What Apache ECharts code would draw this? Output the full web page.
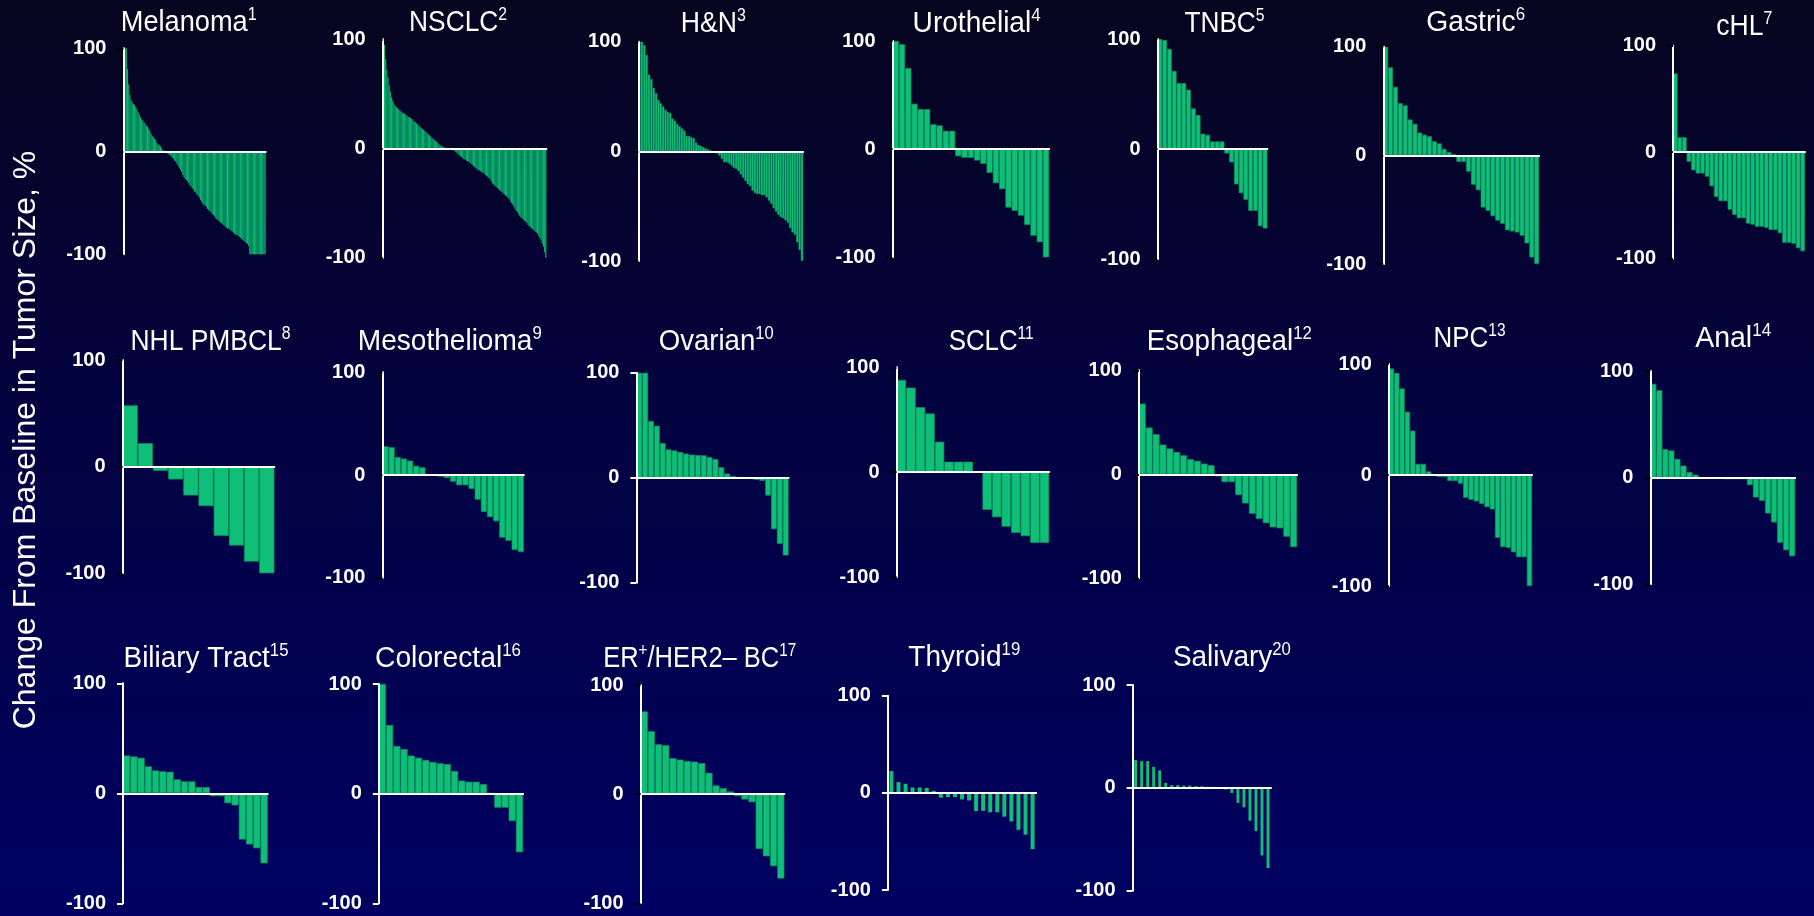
<!DOCTYPE html>
<html><head><meta charset="utf-8">
<script src="https://cdn.jsdelivr.net/npm/echarts@6/dist/echarts.min.js"></script>
<style>html,body{margin:0;padding:0;background:#000040;overflow:hidden}#c{width:1814px;height:916px}</style>
</head><body><div id="c"></div>
<script>
// ---- data (change from baseline in tumor size, %) ----
const melanoma = [100,100,100,80,65,55,50,48,46,45,43,41,38,36,33,31,30,28,27,25,24,22,20,17,15,14,12,11,8,7,6,5,3,1,0.5,
 -1,-2,-2,-3,-4,-5,-6,-7,-9,-10,-12,-14,-16,-18,-20,-23,-25,-27,-28,-29,-31,-33,-34,-36,-37,-39,-40,-42,-43,-45,
 -47,-49,-51,-52,-53,-54,-56,-57,-58,-59,-61,-62,-63,-65,-66,-67,-68,-69,-70,-71,-72,-73,-74,-75,-75,
 -76,-77,-78,-79,-80,-81,-81,-82,-83,-84,-85,-86,-87,-88,-89,-90,-92,
 -100,-100,-100,-100,-100,-100,-100,-100,-100,-100,-100,-100,-100,-100];
const nsclc = [100,95,82,72,65,58,52,47,44,41,39,38,37,36,35,34,33,32,32,31,30,29,29,28,27,26,25,24,23,22,
 21,20,19,18,17,16,15,14,13,12,11,10,9,8,7,6,5,4,3,2,2,1,1,0.5,0.3,-0.3,-0.5,-1,-1,-2,
 -2,-3,-4,-5,-6,-7,-8,-9,-10,-10,-11,-12,-12,-13,-14,-15,-16,-17,-18,-19,-20,-20,-21,-22,-22,-23,-24,-25,-26,-27,
 -28,-30,-32,-33,-34,-35,-36,-37,-38,-39,-40,-41,-42,-43,-44,-45,-46,-48,-50,-51,
 -53,-55,-57,-58,-60,-62,-63,-64,-65,-66,-67,-68,-70,-71,-72,-73,-74,-75,-76,-77,-78,-80,-82,-84,-87,-90,-95,-100];
const hn = [100,100,97,88,70,66,58,53,47,44,41,38,36,35,30,28,25,23,21,19,14,14,13,12,8,6,5,4,3,2,
 1,-0.5,-1,-2,-4,-7,-10,-10,-11,-13,-15,-16,-18,-21,-24,-27,-30,-32,-36,-38,
 -39,-39,-40,-40,-42,-45,-48,-52,-55,-58,-60,-61,-63,-65,-70,-74,-76,-83,-90,-100];
const urothelial = [100,97,75,42,37,37,23,22,17,17,-6.5,-8,-8,-10.5,-13.6,-22,-31.5,-37,-54,-57,-61.5,-70,-80,-86,-100];
const tnbc = [100,99,91,71,60,60,54,37,31,14,13,7,7,7,-4,-12,-32,-40,-46,-56,-56,-70,-72];
const gastric = [100,81,63,48,46,33,29,21,19,17.5,13,11,6,3,1,-6,-6,-15,-27,-32,-48,-51,-56,-60,-63,-69,-70,-71,-74,-81,-94,-100];
const chl = [74,14,14,-9,-17,-20,-20,-23,-32,-42,-46,-46,-54,-59,-62,-62,-67,-68,-70,-70,-71,-73,-73,-76,-85,-85,-86,-90,-93];
const nhlPmbcl = [57.5,22,-4,-12,-27,-37,-65,-74,-89,-100];
const mesothelioma = [28,27,17.5,16,14,9,7.5,0.5,0.3,-1.6,-3,-6.5,-10,-10,-13.6,-24,-36,-41,-45,-61,-64,-73,-75];
const ovarian = [100,100,54,49.5,33,27,26,24.4,23,22,21.6,21.3,19.7,17.8,10,4,1.5,0.5,0.3,-0.5,-2.2,-3,-17,-49,-63,-74];
const sclc = [88,80.6,62,56,29,10,10,10,-0.5,-36,-43,-52,-58,-61,-67.5,-67.5];
const esophageal = [68,45,38.6,28.6,24.8,21.5,18.3,14.5,13,10.3,8.7,-2,-7.5,-7.5,-20,-28,-38,-43,-47,-51,-52,-60,-70];
const npc = [96,92,78,57,40,10,10,3.3,0.5,-1.8,-1.8,-5.4,-5.4,-7.8,-20.5,-22.3,-23.8,-26,-29,-31,-56.6,-65,-65.7,-69.6,-74,-74,-100];
const anal = [88,82,26.7,25.5,17.6,11.3,5.3,2.8,-1,-1,-1,-1,-1.5,-1.5,-1.5,-1.5,-7,-18.6,-21.7,-33.6,-42,-61,-68,-73.6];
const biliary = [34.4,33.5,32.3,24.5,20.8,20,19.6,12.7,10.9,10.9,5.7,5.7,-2.7,-2.7,-9,-11,-42,-46.5,-50,-63.7];
const colorectal = [100,62.6,43.5,40.7,34.7,32.8,30.7,28.9,27.7,27,20.7,11.9,10.9,10.9,8.8,0.6,-12.8,-12.8,-25,-53.5];
const erHer2 = [75.8,57.7,45.7,44.8,33,31.6,30.4,29.8,28.5,19.6,8,5.5,2.5,-1.8,-4.9,-7.4,-50.3,-57,-66,-77.3];
const thyroid = [22.4,11,9.3,5.5,5.5,5,2,-5,-4.4,-4.4,-6.8,-7.8,-18.8,-18.5,-20,-20,-24.5,-29.4,-38,-43,-58];
const salivary = [27,26,26,20.5,17,4.8,2.6,2.6,2.2,2.2,1.6,1.6,1,1,-0.6,-1.6,-5,-14.7,-19,-32,-42,-65.7,-78];

// title parts: alternating [normal, superscript, normal, superscript ...]
const titleParts = [
 ['Melanoma','1'],['NSCLC','2'],['H&N','3'],['Urothelial','4'],['TNBC','5'],['Gastric','6'],['cHL','7'],
 ['NHL PMBCL','8'],['Mesothelioma','9'],['Ovarian','10'],['SCLC','11'],['Esophageal','12'],['NPC','13'],['Anal','14'],
 ['Biliary Tract','15'],['Colorectal','16'],['ER','+','/HER2– BC','17'],['Thyroid','19'],['Salivary','20']];
const yTicks = [-100, 0, 100];
const yTitle = 'Change From Baseline in Tumor Size, %';

// ---- layout (pixels): axis x, right x, y of +100, y of -100, title centre x, title centre y, title width ----
const seriesList = [melanoma,nsclc,hn,urothelial,tnbc,gastric,chl,nhlPmbcl,mesothelioma,ovarian,sclc,esophageal,npc,anal,biliary,colorectal,erHer2,thyroid,salivary];
const boxes = [
 [123.4,265.7,48.3,254.3,188.8,23,136],[382.7,546.4,39.3,257.7,458.1,23,98],[638.4,803.2,41.7,261,713.3,24,65],
 [892.6,1049.2,41,257.3,976.6,24,128],[1157.5,1267.4,39,259.3,1224.5,24,80],[1383.3,1539.1,46.7,264,1475.7,23,99],
 [1673,1805,45.7,258.7,1744.3,27,56],
 [122.6,274.4,360,573.3,210.5,342,160],[382.4,523.9,372.3,577.7,449.8,342,184],[636.4,788.6,372.7,582.7,716.2,342,115],
 [896.6,1049.2,367.3,577,991.2,342,85],[1138.9,1297.1,370.3,578.3,1229.2,342,165],[1388.8,1532.1,364,586,1469.6,339,72],
 [1650.3,1795.2,371,584.3,1733.2,339,76],
 [123,267.7,683.3,903.3,206,659,165],[378.8,523.1,684,903.3,448,659,146],[640.6,784.4,685,903.3,699.7,659,193],
 [887.9,1036.1,695.7,890,964.3,658,112],[1132.6,1271,685,890.7,1231.9,658,118]
];
const whiteTicks = [9,14,15,17,18];
const SANS = '"Liberation Sans",Arial,sans-serif';
const MAIN_PX = 30, SUP_PX = 18;
const GREEN = '#0fbf78';
const EDGE = '#0a8d5b';

const mctx = document.createElement('canvas').getContext('2d');
function textW(t, px) { mctx.font = px + 'px "Liberation Sans", Arial, sans-serif'; return mctx.measureText(t).width; }

const grid = [], xAxis = [], yAxis = [], series = [], graphic = [];
seriesList.forEach((d, i) => {
  const b = boxes[i];
  grid.push({left: b[0], top: b[2], width: b[1] - b[0], height: b[3] - b[2], containLabel: false, outerBoundsMode: 'none'});
  xAxis.push({type: 'category', gridIndex: i, data: d.map((v, k) => k), boundaryGap: true, z: 5,
    axisLine: {show: true, onZero: true, lineStyle: {color: '#ffffff', width: 2}},
    axisTick: {show: false}, axisLabel: {show: false}, splitLine: {show: false}});
  yAxis.push({type: 'value', gridIndex: i, min: yTicks[0], max: yTicks[2], interval: 100, z: 5,
    axisLine: {show: true, lineStyle: {color: '#ffffff', width: 2}},
    axisTick: {show: true, length: 6, lineStyle: {color: whiteTicks.includes(i) ? '#ffffff' : '#000000', width: 2}},
    axisLabel: {show: true, color: '#ffffff', fontWeight: 'bold', fontSize: 20, fontFamily: SANS, margin: 17},
    splitLine: {show: false}});
  const dense = d.length > 100;
  const gap = i === 17 ? '43%' : (i === 18 ? '52%' : 0);
  series.push({type: 'bar', xAxisIndex: i, yAxisIndex: i, data: d, barCategoryGap: gap, silent: true,
    itemStyle: {color: GREEN, borderColor: EDGE, borderWidth: dense ? 0.12 : (gap ? 0 : (d.length > 60 ? 0.45 : 0.7))}});
  const parts = titleParts[i];
  let txt = '', natural = 0;
  parts.forEach((p, k) => {
    const sup = k % 2 === 1;
    txt += '{' + (sup ? 's' : 'a') + '|' + p + '}';
    natural += textW(p, sup ? SUP_PX : MAIN_PX);
  });
  graphic.push({type: 'text', x: b[4], y: b[5], z: 20, silent: true, scaleX: b[6] / natural, scaleY: 1,
    style: {text: txt, align: 'center', verticalAlign: 'middle', textAlign: 'center', textVerticalAlign: 'middle', fill: '#fff',
      rich: {a: {fontSize: MAIN_PX, fontFamily: SANS, fill: '#fff', color: '#fff', lineHeight: 34},
             s: {fontSize: SUP_PX, fontFamily: SANS, fill: '#fff', color: '#fff', verticalAlign: 'top', lineHeight: 21}}}});
});
graphic.push({type: 'text', x: 26, y: 440, rotation: Math.PI / 2, z: 20, silent: true,
  style: {text: yTitle, align: 'center', verticalAlign: 'middle', textAlign: 'center', textVerticalAlign: 'middle',
    fill: '#fff', fontSize: 32, fontFamily: SANS, font: '32px "Liberation Sans", Arial, sans-serif'}});

const chart = echarts.init(document.getElementById('c'), null, {renderer: 'canvas', width: 1814, height: 916});
chart.setOption({
  animation: false,
  backgroundColor: {type: 'linear', x: 0, y: 0, x2: 0, y2: 1,
    colorStops: [{offset: 0, color: '#07051f'}, {offset: 0.45, color: '#030340'}, {offset: 1, color: '#000062'}]},
  grid, xAxis, yAxis, series, graphic
});
</script></body></html>
